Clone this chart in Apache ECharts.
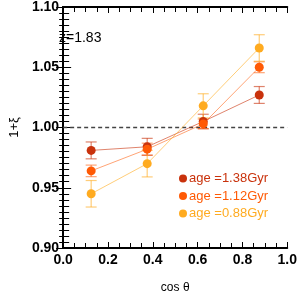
<!DOCTYPE html>
<html><head><meta charset="utf-8">
<script src="https://cdn.jsdelivr.net/npm/echarts@6/dist/echarts.min.js"></script>
<style>html,body{margin:0;padding:0;background:#fff}#c{width:300px;height:299px}</style>
</head><body><div id="c"></div>
<script>
const cosTheta = [0.125, 0.375, 0.625, 0.875];
const names = ['age =1.38Gyr', 'age =1.12Gyr', 'age =0.88Gyr'];
const xi138 = [0.981, 0.984, 1.005, 1.027];
const err138 = [0.007, 0.007, 0.006, 0.007];
const xi112 = [0.964, 0.982, 1.003, 1.050];
const err112 = [0.0048, 0.005, 0.004, 0.0045];
const xi088 = [0.945, 0.970, 1.018, 1.066];
const err088 = [0.011, 0.011, 0.010, 0.011];
const xTicks = [0, 0.2, 0.4, 0.6, 0.8, 1.0];
const yTicks = [0.90, 0.95, 1.00, 1.05, 1.10];

const colors = ['#c9320c', '#ff5a05', '#ffab20'];
const lineColors = ['rgba(201,50,12,0.6)', 'rgba(255,90,5,0.55)', 'rgba(255,171,32,0.6)'];
const vals = [xi138, xi112, xi088];
const errs = [err138, err112, err088];

const chart = echarts.init(document.getElementById('c'), null, {renderer: 'canvas'});
const F = 'Liberation Sans, Arial, Helvetica, sans-serif';

const series = [];
vals.forEach((v, i) => {
  series.push({
    type: 'custom', name: names[i] + '_err', z: 2, silent: true,
    data: cosTheta.map((x, k) => [x, v[k] - errs[i][k], v[k] + errs[i][k]]),
    renderItem: (params, api) => {
      const lo = api.coord([api.value(0), api.value(1)]);
      const hi = api.coord([api.value(0), api.value(2)]);
      const w = 5.5;
      const st = {stroke: lineColors[i], lineWidth: 1.2};
      return {type: 'group', children: [
        {type: 'line', shape: {x1: lo[0], y1: lo[1], x2: hi[0], y2: hi[1]}, style: st},
        {type: 'line', shape: {x1: lo[0]-w, y1: lo[1], x2: lo[0]+w, y2: lo[1]}, style: st},
        {type: 'line', shape: {x1: hi[0]-w, y1: hi[1], x2: hi[0]+w, y2: hi[1]}, style: st}
      ]};
    }
  });
});
vals.forEach((v, i) => {
  series.push({
    type: 'line', name: names[i], z: 3 + i,
    data: cosTheta.map((x, k) => [x, v[k]]),
    symbol: 'circle', symbolSize: 9,
    itemStyle: {color: colors[i]},
    lineStyle: {color: lineColors[i], width: 1},
    emphasis: {disabled: true}
  });
});
series.push({
  type: 'line', name: 'ref', data: [[0, 1], [1, 1]], symbol: 'none', z: 1,
  lineStyle: {color: '#444', width: 1.3, type: [4, 3]}, silent: true
});

const axisLine = {show: true, lineStyle: {color: '#000', width: 2}};
chart.setOption({
  animation: false,
  grid: {left: 45, top: 6, width: 246, height: 245, containLabel: false},
  legend: {
    data: names.map((n, i) => ({name: n, textStyle: {color: colors[i]}})),
    orient: 'vertical', left: 174, top: 167, icon: 'circle',
    itemWidth: 8, itemHeight: 8, itemGap: 4.5,
    textStyle: {fontFamily: F, fontSize: 13, padding: [0, 0, 0, -3]}
  },
  graphic: [{type: 'text', left: 59, top: 31, z: 100, style: {text: 'z=1.83', font: '14px ' + F, fill: '#000'}}],
  xAxis: [{
    type: 'value', min: 0, max: 1, interval: 0.2, position: 'bottom',
    name: 'cos θ', nameLocation: 'middle', nameGap: 34,
    nameTextStyle: {fontFamily: F, fontSize: 12, color: '#000'},
    axisLine, splitLine: {show: false},
    axisTick: {inside: true, length: 6, lineStyle: {color: '#000', width: 1}},
    minorTick: {show: true, splitNumber: 4, length: 5, lineStyle: {color: '#000', width: 1}},
    axisLabel: {fontFamily: F, fontSize: 14, fontWeight: 'bold', color: '#000', margin: 5,
      formatter: v => v.toFixed(1)}
  }, {
    type: 'value', min: 0, max: 1, interval: 0.2, position: 'top',
    axisLine, splitLine: {show: false}, axisLabel: {show: false},
    axisTick: {inside: true, length: 6, lineStyle: {color: '#000', width: 1}},
    minorTick: {show: true, splitNumber: 4, length: 5, lineStyle: {color: '#000', width: 1}}
  }],
  yAxis: [{
    type: 'value', min: 0.9, max: 1.1, interval: 0.05, position: 'left',
    name: '1+ξ', nameLocation: 'middle', nameGap: 35,
    nameTextStyle: {fontFamily: F, fontSize: 13, color: '#000'},
    axisLine, splitLine: {show: false},
    axisTick: {inside: true, length: 8, lineStyle: {color: '#000', width: 1}},
    minorTick: {show: true, splitNumber: 10, length: 6, lineStyle: {color: '#000', width: 1}},
    axisLabel: {fontFamily: F, fontSize: 14, fontWeight: 'bold', color: '#000', margin: 4,
      formatter: v => v.toFixed(2)}
  }, {
    type: 'value', min: 0.9, max: 1.1, interval: 0.05, position: 'right',
    axisLine, splitLine: {show: false}, axisLabel: {show: false},
    axisTick: {inside: true, length: 7, lineStyle: {color: '#000', width: 1}},
    minorTick: {show: true, splitNumber: 10, length: 4, lineStyle: {color: '#000', width: 1}}
  }],
  series
});
</script></body></html>
